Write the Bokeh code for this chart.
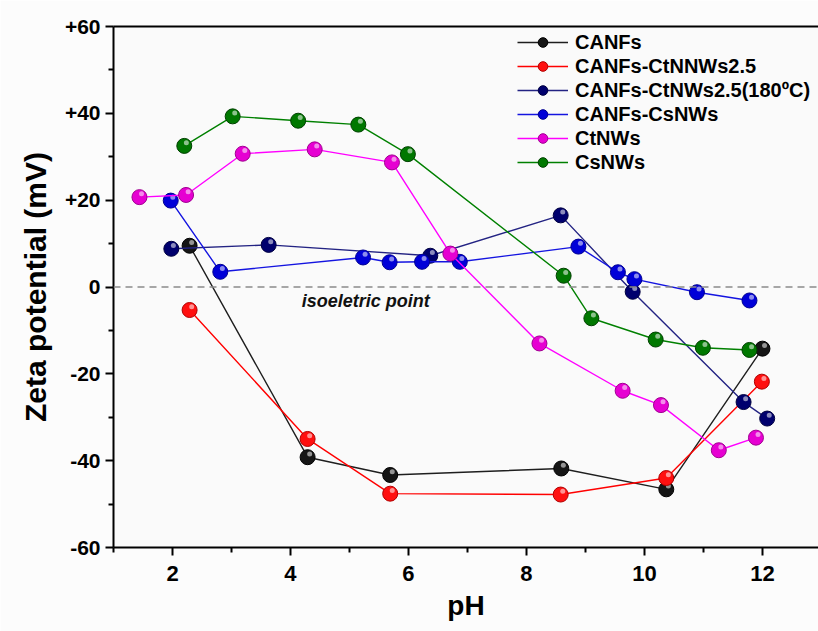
from bokeh.plotting import figure
from bokeh.models import (ColumnDataSource, FixedTicker, LinearAxis, Range1d, Span,
                          Label, Legend, LegendItem)
from bokeh.transform import dodge
from bokeh.embed import file_html
from bokeh.resources import INLINE

# ---------------- data ----------------
canfs_ph = [2.29, 4.29, 5.69, 8.59, 10.37, 12.0]
canfs_zeta = [9.5, -39.2, -43.3, -41.8, -46.6, -14.2]

ctnnws_ph = [2.29, 4.29, 5.69, 8.58, 10.37, 11.99]
ctnnws_zeta = [-5.3, -35.0, -47.6, -47.8, -44.0, -21.8]

ctnws180_ph = [1.98, 3.63, 6.37, 8.58, 9.80, 11.68, 12.08]
ctnws180_zeta = [8.8, 9.7, 7.2, 16.5, -1.1, -26.5, -30.3]

csnws_mix_ph = [1.97, 2.81, 5.23, 5.68, 6.23, 6.87, 8.88, 9.55, 9.83, 10.89, 11.78]
csnws_mix_zeta = [19.9, 3.5, 6.8, 5.7, 5.8, 5.8, 9.3, 3.4, 1.8, -1.2, -3.1]

ctnws_ph = [1.44, 2.23, 3.19, 4.41, 5.72, 6.71, 8.22, 9.63, 10.28, 11.26, 11.89]
ctnws_zeta = [20.7, 21.2, 30.7, 31.7, 28.7, 7.7, -13.0, -23.9, -27.2, -37.6, -34.7]

csnws_ph = [2.20, 3.02, 4.13, 5.15, 5.99, 8.63, 9.10, 10.19, 10.99, 11.78]
csnws_zeta = [32.5, 39.3, 38.3, 37.4, 30.6, 2.6, -7.2, -12.1, -14.0, -14.5]

series_names = ["CANFs", "CANFs-CtNNWs2.5", "CANFs-CtNWs2.5(180ºC)",
                "CANFs-CsNWs", "CtNWs", "CsNWs"]

x_ticks = [2, 4, 6, 8, 10, 12]
x_minor = [1, 3, 5, 7, 9, 11, 13]
y_ticks = [-60, -40, -20, 0, 20, 40, 60]
y_tick_labels = ["-60", "-40", "-20", "0", "+20", "+40", "+60"]
y_minor = [-50, -30, -10, 10, 30, 50]

FONT = "Liberation Sans"

# ---------------- figure ----------------
p = figure(width=818, height=631, output_backend="svg", toolbar_location=None,
           x_range=Range1d(1, 12.95), y_range=Range1d(-60, 60),
           min_border_left=113, min_border_right=0, min_border_top=26,
           min_border_bottom=84)
p.background_fill_color = "#fafafa"
p.border_fill_color = "#fcfcfc"
p.outline_line_color = None
p.grid.visible = False

for ax in (p.xaxis[0], p.yaxis[0]):
    ax.axis_line_width = 2
    ax.axis_line_color = "black"
    ax.major_tick_line_width = 2
    ax.minor_tick_line_width = 2
    ax.major_tick_out = 8
    ax.major_tick_in = 0
    ax.minor_tick_out = 5
    ax.minor_tick_in = 0
    ax.major_label_text_font = FONT
    ax.major_label_text_font_style = "bold"
    ax.major_label_text_color = "black"
    ax.axis_label_text_font = FONT
    ax.axis_label_text_font_style = "bold"
    ax.axis_label_text_color = "black"

p.xaxis.ticker = FixedTicker(ticks=x_ticks, minor_ticks=x_minor)
p.yaxis.ticker = FixedTicker(ticks=y_ticks, minor_ticks=y_minor)
p.yaxis.major_label_overrides = {t: l for t, l in zip(y_ticks, y_tick_labels)}
p.xaxis.major_label_text_font_size = "22px"
p.yaxis.major_label_text_font_size = "21px"
p.xaxis.major_label_standoff = 10
p.yaxis.major_label_standoff = 5
p.xaxis.axis_label = "pH"
p.yaxis.axis_label = "Zeta potential (mV)"
p.xaxis.axis_label_text_font_size = "28px"
p.yaxis.axis_label_text_font_size = "30px"
p.xaxis.axis_label_standoff = 6
p.yaxis.axis_label_standoff = 10

top_axis = LinearAxis(major_label_text_font_size="0px", major_tick_out=0,
                      major_tick_in=0, minor_tick_out=0, minor_tick_in=0,
                      axis_line_width=2, axis_line_color="black",
                      ticker=FixedTicker(ticks=[]))
p.add_layout(top_axis, "above")

# zero line
p.add_layout(Span(location=0, dimension="width", line_color="#8a8a8a",
                  line_width=1.5, line_dash="7 5"))
p.add_layout(Label(x=4.19, y=-1.0, text="isoeletric point", text_baseline="top",
                   text_font=FONT, text_font_style="bold italic",
                   text_font_size="18px", text_color="#111111"))

series = [
    (canfs_ph, canfs_zeta, "#1e1e1e", "#151515", "#000000"),
    (ctnnws_ph, ctnnws_zeta, "#ff0000", "#ff1010", "#b00000"),
    (ctnws180_ph, ctnws180_zeta, "#232383", "#00006e", "#000040"),
    (csnws_mix_ph, csnws_mix_zeta, "#1414e0", "#0000d8", "#000090"),
    (ctnws_ph, ctnws_zeta, "#ff00ff", "#e600d2", "#a00090"),
    (csnws_ph, csnws_zeta, "#008000", "#007800", "#004000"),
]

items = []
for (xs, ys, lc, fc, ec), name in zip(series, series_names):
    src = ColumnDataSource(dict(x=xs, y=ys))
    ln = p.line("x", "y", source=src, line_color=lc, line_width=1.4)
    sc = p.scatter("x", "y", source=src, size=15, fill_color=fc,
                   line_color=ec, line_width=1)
    p.scatter(dodge("x", 0.035, range=p.x_range), dodge("y", 0.75, range=p.y_range),
              source=src, size=5, fill_color="white", fill_alpha=0.55,
              line_color=None)
    items.append(LegendItem(label=name, renderers=[ln, sc]))

legend = Legend(items=items, location=(404, 373), orientation="vertical",
                glyph_width=51, glyph_height=24, spacing=0, label_standoff=7,
                padding=0, margin=0, border_line_color=None,
                background_fill_color="#fafafa", background_fill_alpha=1,
                label_text_font=FONT, label_text_font_style="bold",
                label_text_font_size="20px", label_text_color="black",
                label_height=20)
p.add_layout(legend)

open("out.html", "w").write(file_html(p, INLINE))
